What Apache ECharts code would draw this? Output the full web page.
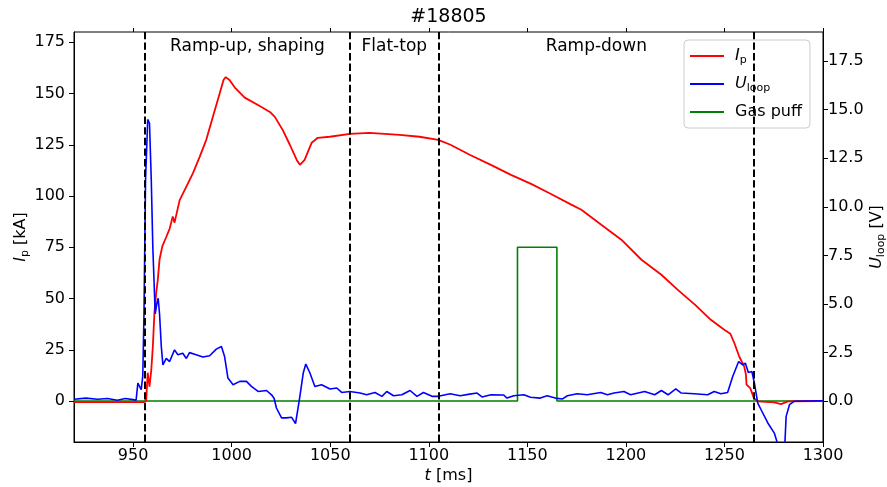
<!DOCTYPE html>
<html>
<head>
<meta charset="utf-8">
<script src="https://cdn.jsdelivr.net/npm/echarts@6/dist/echarts.min.js"></script>
<style>html,body{margin:0;padding:0;background:#fff}#chart{width:887px;height:487px}</style>
</head>
<body>
<div id="chart"></div>
<script>
// ---- data ----
const tTicks = [950, 1000, 1050, 1100, 1150, 1200, 1250, 1300];
const ipTicks = [0, 25, 50, 75, 100, 125, 150, 175];
const uTicks = [0, 2.5, 5, 7.5, 10, 12.5, 15, 17.5];
const phaseTimes = [956, 1060, 1105, 1265];
const phaseLabels = ['Ramp-up, shaping', 'Flat-top', 'Ramp-down'];
const phaseLabelTimes = [1008, 1082.5, 1185];
const phaseLabelLevel = [173, 173, 173];

const ipTime = [920, 940, 955.5, 956.6, 957.4, 958.3, 959.2, 960, 960.8, 961.7, 962.5, 963.4, 964.8, 966.8, 968.5, 969.3, 970.1, 971, 973.6, 977, 980.3, 983.7, 987.1, 990.5, 993.9, 995.9, 997, 999, 1001.5, 1006.6, 1014, 1019.4, 1021.9, 1026, 1029.5, 1033, 1034.6, 1037, 1040.6, 1043.7, 1049.8, 1060, 1069.9, 1085.2, 1095.3, 1104.8, 1111, 1121, 1131.5, 1141.7, 1151.9, 1162, 1172.3, 1177.4, 1187.5, 1197.7, 1207.9, 1218, 1226.2, 1235, 1243.1, 1249.9, 1253, 1255, 1257.5, 1260, 1260.9, 1261.2, 1263.1, 1264.9, 1266.9, 1275.3, 1278.7, 1282.2, 1300];
const ipValue = [-0.5, -0.5, -0.5, 0, 13.8, 7, 15, 26.6, 43, 52.8, 59, 69, 75.4, 80, 84, 87, 90, 87, 98, 104.6, 111, 119, 127.4, 138.8, 150, 156.7, 158, 156.5, 153, 148, 144, 141, 138.6, 132, 125, 117.6, 115.2, 117.6, 126, 128.4, 128.9, 130.3, 130.8, 129.8, 128.9, 127.4, 125, 120, 115.2, 110.3, 105.9, 101, 95.8, 93.3, 86, 78.7, 68.9, 61.6, 54.3, 47, 39.6, 34.8, 32.8, 28.3, 21.7, 16.9, 12.9, 8, 6.3, 1.5, -0.2, -0.7, -1.5, -0.2, 0];

const uTime = [920, 926, 932, 937, 942, 946, 950, 951.5, 952.4, 953.4, 954.1, 954.9, 955.5, 956.3, 957.4, 958.3, 959.2, 960, 961.2, 962, 962.7, 963.4, 964.3, 965.1, 966.8, 968.5, 971, 972.7, 975.2, 977, 978.6, 982, 985.4, 988.8, 992.2, 994.8, 996.4, 998.1, 1000.7, 1004.1, 1007.5, 1010, 1013.4, 1017.7, 1020.2, 1021.5, 1022.7, 1025.3, 1027.8, 1030.4, 1032.4, 1034.6, 1036.3, 1037.6, 1039.7, 1042.2, 1045.6, 1049.9, 1053.3, 1055.8, 1060, 1065.1, 1068.5, 1072.7, 1076.2, 1078.7, 1082.1, 1086.3, 1090.5, 1094, 1097.3, 1101.6, 1104.9, 1110.8, 1115.9, 1120, 1124.5, 1127, 1131.6, 1138, 1139.7, 1143.1, 1148.2, 1151.6, 1156.6, 1160, 1164.2, 1167.7, 1170.3, 1175.3, 1180.4, 1187.2, 1190.6, 1194, 1199, 1202.4, 1209.5, 1214.6, 1218, 1221.4, 1225.3, 1228.1, 1234.7, 1241.5, 1244.8, 1248.2, 1251.6, 1254.2, 1257.2, 1259.3, 1260.6, 1262.1, 1263.9, 1265.2, 1266.9, 1268.6, 1272, 1275.3, 1277.9, 1279.5, 1280.6, 1281.3, 1283, 1285.5, 1300];
const uValue = [0.1, 0.16, 0.1, 0.14, 0.05, 0.14, 0.08, 0.05, 0.93, 0.9, 0.6, 1.3, 4.5, 11.4, 14.5, 14.3, 11.4, 7.9, 4.5, 5.0, 5.3, 4.5, 2.8, 1.87, 2.2, 2.04, 2.64, 2.39, 2.47, 2.2, 2.5, 2.39, 2.27, 2.34, 2.68, 2.81, 2.3, 1.19, 0.85, 1.02, 1.02, 0.76, 0.5, 0.55, 0.33, 0.15, -0.35, -0.86, -0.86, -0.83, -1.15, 0.25, 1.45, 1.91, 1.45, 0.76, 0.85, 0.63, 0.68, 0.45, 0.5, 0.42, 0.33, 0.45, 0.25, 0.5, 0.28, 0.33, 0.55, 0.25, 0.45, 0.25, 0.25, 0.38, 0.28, 0.35, 0.42, 0.22, 0.33, 0.32, 0.16, 0.28, 0.33, 0.2, 0.16, 0.28, 0.16, 0.11, 0.28, 0.38, 0.33, 0.45, 0.33, 0.42, 0.5, 0.33, 0.5, 0.33, 0.55, 0.33, 0.63, 0.42, 0.38, 0.33, 0.5, 0.38, 0.45, 1.27, 2.04, 1.87, 1.96, 1.48, 1.53, 0.93, -0.1, -0.44, -1.12, -1.64, -2.5, -2.8, -2.3, -0.78, -0.18, 0, 0.02];

const gasTime = [920, 1145, 1145, 1165, 1165, 1300];
const gasValue = [0, 0, 75, 75, 0, 0];

// ---- chart ----
const FONT = 'DejaVu Sans';
const zip = (a, b) => a.map((v, i) => [v, b[i]]);
const richStyles = {
  i: { fontStyle: 'italic', fontSize: 16, fontFamily: FONT, color: '#000', lineHeight: 20 },
  sub: { fontSize: 11, fontFamily: FONT, color: '#000', lineHeight: 11, verticalAlign: 'bottom' },
  n: { fontSize: 16, fontFamily: FONT, color: '#000', lineHeight: 20 }
};
const legendNames = { 'Ip': '{i|I}{sub|p}', 'Uloop': '{i|U}{sub|loop}', 'Gas puff': '{n|Gas puff}' };

const chart = echarts.init(document.getElementById('chart'), null, { renderer: 'canvas' });
const tickLabel = { color: '#000', fontSize: 16, fontFamily: FONT };

chart.setOption({
  animation: false,
  backgroundColor: '#fff',
  title: {
    text: '#18805', left: 448.5, top: 8, textAlign: 'center', padding: 0,
    textStyle: { fontSize: 19, fontWeight: 'normal', fontFamily: FONT, color: '#000' }
  },
  grid: { left: 74, right: 64, top: 32, bottom: 45, show: true, borderColor: '#000', borderWidth: 1,
          backgroundColor: 'transparent', containLabel: false, outerBoundsMode: 'none' },
  legend: {
    data: ['Ip', 'Uloop', 'Gas puff'],
    orient: 'vertical', left: 684, top: 40,
    padding: [8, 8, 8, 6], itemGap: 10, itemWidth: 34, itemHeight: 2, icon: 'rect',
    backgroundColor: 'rgba(255,255,255,0.8)', borderColor: '#cccccc', borderWidth: 1, borderRadius: 4,
    formatter: n => legendNames[n],
    textStyle: { fontSize: 16, fontFamily: FONT, color: '#000', padding: [0, 0, 0, 6], rich: richStyles }
  },
  xAxis: [{
    type: 'value', min: 920, max: 1300, position: 'bottom',
    name: '{i|t}{n| [ms]}', nameLocation: 'middle', nameGap: 24, nameMoveOverlap: false,
    nameTextStyle: { rich: richStyles },
    axisLine: { show: true, onZero: false, lineStyle: { color: '#000', width: 1 } },
    axisTick: { show: true, customValues: tTicks, length: 5, lineStyle: { color: '#000' } },
    axisLabel: Object.assign({ customValues: tTicks, margin: 6, formatter: v => String(v) }, tickLabel),
    splitLine: { show: false }
  }, {
    type: 'value', min: 920, max: 1300, position: 'top',
    axisLine: { show: false, onZero: false },
    axisTick: { show: true, customValues: tTicks, length: 4, lineStyle: { color: '#000' } },
    axisLabel: { show: false },
    splitLine: { show: false }
  }],
  yAxis: [{
    type: 'value', min: -20, max: 180, position: 'left',
    name: '{i|I}{sub|p}{n| [kA]}', nameLocation: 'middle', nameGap: 43, nameRotate: 90, nameMoveOverlap: false,
    nameTextStyle: { rich: richStyles },
    axisLine: { show: true, onZero: false, lineStyle: { color: '#000', width: 1 } },
    axisTick: { show: true, customValues: ipTicks, length: 5, lineStyle: { color: '#000' } },
    axisLabel: Object.assign({ customValues: ipTicks, margin: 9, formatter: v => String(v) }, tickLabel),
    splitLine: { show: false }
  }, {
    type: 'value', min: -2.1, max: 19, position: 'right',
    name: '{i|U}{sub|loop}{n| [V]}', nameLocation: 'middle', nameGap: 44, nameRotate: 90, nameMoveOverlap: false,
    nameTextStyle: { rich: richStyles },
    axisLine: { show: true, onZero: false, lineStyle: { color: '#000', width: 1 } },
    axisTick: { show: true, customValues: uTicks, length: 5, lineStyle: { color: '#000' } },
    axisLabel: Object.assign({ customValues: uTicks, margin: 5, formatter: v => v.toFixed(1) }, tickLabel),
    splitLine: { show: false }
  }],
  series: [
    {
      name: 'Gas puff', type: 'line', xAxisIndex: 0, yAxisIndex: 0, data: zip(gasTime, gasValue),
      symbol: 'none', lineStyle: { color: '#008000', width: 1.6 }, itemStyle: { color: '#008000' }, z: 2
    },
    {
      name: 'Ip', type: 'line', xAxisIndex: 0, yAxisIndex: 0, data: zip(ipTime, ipValue),
      symbol: 'none', lineStyle: { color: '#ff0000', width: 1.8 }, itemStyle: { color: '#ff0000' }, z: 3
    },
    {
      name: 'Uloop', type: 'line', xAxisIndex: 0, yAxisIndex: 1, data: zip(uTime, uValue),
      symbol: 'none', clip: true, lineStyle: { color: '#0000ff', width: 1.6 }, itemStyle: { color: '#0000ff' }, z: 4
    },
    {
      name: 'phases', type: 'line', xAxisIndex: 0, yAxisIndex: 0, data: [], z: 5,
      markLine: {
        silent: true, symbol: 'none', animation: false,
        label: { show: false },
        lineStyle: { color: '#000', width: 2, type: [7.4, 3.2] },
        data: phaseTimes.map(t => ({ xAxis: t }))
      }
    },
    {
      name: 'phaseLabels', type: 'scatter', xAxisIndex: 0, yAxisIndex: 0,
      data: phaseLabelTimes.map((t, i) => [t, phaseLabelLevel[i], phaseLabels[i]]),
      symbolSize: 0, itemStyle: { color: '#000' }, silent: true, z: 6,
      label: { show: true, position: 'inside', formatter: p => p.value[2], color: '#000', opacity: 1,
               textBorderWidth: 0, fontSize: 17, fontFamily: FONT }
    }
  ]
});
</script>
</body>
</html>
